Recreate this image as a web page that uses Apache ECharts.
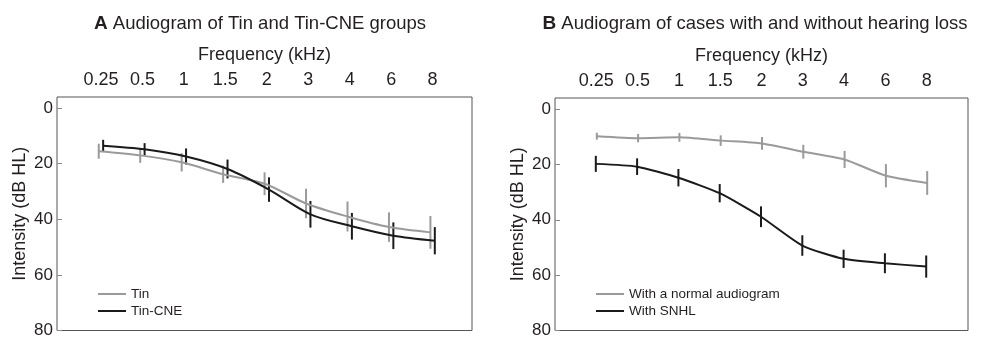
<!DOCTYPE html>
<html>
<head>
<meta charset="utf-8">
<script src="https://cdn.jsdelivr.net/npm/echarts@6/dist/echarts.min.js"></script>
<style>
html,body{margin:0;padding:0;background:#fff;}
#chart{width:982px;height:339px;}
</style>
</head>
<body>
<div id="chart"></div>
<script>
// ---- data ----
const categories = ['0.25', '0.5', '1', '1.5', '2', '3', '4', '6', '8'];
const yTicks = [0, 20, 40, 60, 80];

const tinMean    = [15.5, 17.0, 19.5, 23.8, 27.2, 34.3, 39.0, 42.8, 44.7];
const tinErr     = [2.7, 2.7, 3.3, 3.1, 4.1, 5.3, 5.4, 5.3, 5.9];
const tinCneMean = [13.5, 14.8, 17.4, 21.9, 29.3, 38.2, 42.5, 45.9, 47.7];
const tinCneErr  = [2.1, 2.2, 2.9, 3.4, 4.4, 4.8, 4.8, 4.8, 4.9];

const normalMean = [9.8, 10.5, 10.2, 11.4, 12.4, 15.4, 18.2, 24.1, 26.7];
const normalErr  = [1.25, 1.5, 1.6, 1.9, 2.3, 2.5, 3.1, 4.2, 4.3];
const snhlMean   = [19.8, 20.8, 24.8, 30.4, 38.9, 49.3, 54.1, 55.7, 56.9];
const snhlErr    = [2.9, 3.0, 3.15, 3.3, 3.75, 3.7, 3.3, 3.6, 4.0];

const titleA = 'Audiogram of Tin and Tin-CNE groups';
const titleB = 'Audiogram of cases with and without hearing loss';
const xName = 'Frequency (kHz)';
const yName = 'Intensity (dB HL)';

// ---- styles ----
const FONT = '"Liberation Sans", Arial, sans-serif';
const GREY = '#9a9a9a';
const BLACK = '#1a1a1a';
const TEXT = '#231f20';

function pts(means, shift) {
  return means.map((v, i) => [i + shift, v]);
}
function errs(means, e, shift) {
  return means.map((v, i) => [i + shift, v, e[i]]);
}
function errSeries(idx, data, color, w) {
  return {
    type: 'custom', xAxisIndex: idx, yAxisIndex: idx, data: data, silent: true,
    renderItem: function (params, api) {
      const x = api.value(0), y = api.value(1), e = api.value(2);
      const p1 = api.coord([x, y - e]);
      const p2 = api.coord([x, y + e]);
      return { type: 'line', shape: { x1: p1[0], y1: p1[1], x2: p2[0], y2: p2[1] },
               style: { stroke: color, lineWidth: w } };
    }
  };
}
function lineSeries(idx, name, data, color, smooth) {
  return {
    type: 'line', name: name, xAxisIndex: idx, yAxisIndex: idx, data: data,
    symbol: 'none', smooth: smooth, silent: true,
    lineStyle: { color: color, width: 2 }, itemStyle: { color: color }
  };
}
function xAxis(idx, min, max) {
  return {
    type: 'value', gridIndex: idx, position: 'top', min: min, max: max,
    name: xName, nameLocation: 'middle', nameGap: 33,
    nameTextStyle: { fontFamily: FONT, fontSize: 18, color: TEXT },
    axisLine: { show: false, onZero: false }, axisTick: { show: false }, splitLine: { show: false },
    axisLabel: {
      customValues: categories.map((c, i) => i),
      formatter: v => categories[Math.round(v)],
      fontFamily: FONT, fontSize: 18, color: TEXT, margin: 8
    }
  };
}
function yAxis(idx) {
  return {
    type: 'value', gridIndex: idx, inverse: true, min: -4, max: 80,
    name: yName, nameLocation: 'middle', nameGap: 28,
    nameTextStyle: { fontFamily: FONT, fontSize: 18, color: TEXT },
    axisLine: { show: false, onZero: false }, splitLine: { show: false },
    axisTick: { show: true, inside: true, length: 5, customValues: yTicks,
                lineStyle: { color: '#888', width: 1 } },
    axisLabel: { customValues: yTicks, fontFamily: FONT, fontSize: 17, color: TEXT, margin: 4 }
  };
}

const chart = echarts.init(document.getElementById('chart'), null, { renderer: 'canvas' });
const dA = 0.053, dB = 0.012;
chart.setOption({
  animation: false,
  backgroundColor: '#fff',
  grid: [
    { left: 57, right: 510, top: 97, bottom: 7, show: true, borderColor: '#555', borderWidth: 1, containLabel: false },
    { left: 555, right: 14, top: 98, bottom: 6, show: true, borderColor: '#555', borderWidth: 1, containLabel: false }
  ],
  xAxis: [xAxis(0, -1.06, 8.95), xAxis(1, -1, 9)],
  yAxis: [yAxis(0), yAxis(1)],
  legend: [
    { data: ['Tin', 'Tin-CNE'], orient: 'vertical', left: 98, top: 287, itemGap: 3,
      icon: 'rect', itemWidth: 28, itemHeight: 2, padding: 0,
      textStyle: { fontFamily: FONT, fontSize: 13.5, color: TEXT } },
    { data: ['With a normal audiogram', 'With SNHL'], orient: 'vertical', left: 596, top: 287, itemGap: 3,
      icon: 'rect', itemWidth: 28, itemHeight: 2, padding: 0,
      textStyle: { fontFamily: FONT, fontSize: 13.5, color: TEXT } }
  ],
  graphic: [
    { type: 'text', x: 260, y: 24, style: {
        text: '{b|A} ' + titleA, fontFamily: FONT, fontSize: 18.5, fill: TEXT,
        align: 'center', verticalAlign: 'middle', textAlign: 'center', textVerticalAlign: 'middle',
        rich: { b: { fontWeight: 'bold', fontSize: 19, fontFamily: FONT, fill: TEXT } } } },
    { type: 'text', x: 755, y: 24, style: {
        text: '{b|B} ' + titleB, fontFamily: FONT, fontSize: 18.5, fill: TEXT,
        align: 'center', verticalAlign: 'middle', textAlign: 'center', textVerticalAlign: 'middle',
        rich: { b: { fontWeight: 'bold', fontSize: 19, fontFamily: FONT, fill: TEXT } } } }
  ],
  series: [
    errSeries(0, errs(tinMean, tinErr, -dA), GREY, 2),
    lineSeries(0, 'Tin', pts(tinMean, -dA), GREY, 0.3),
    errSeries(0, errs(tinCneMean, tinCneErr, dA), BLACK, 2),
    lineSeries(0, 'Tin-CNE', pts(tinCneMean, dA), BLACK, 0.3),
    errSeries(1, errs(normalMean, normalErr, dB), GREY, 2),
    lineSeries(1, 'With a normal audiogram', pts(normalMean, dB), GREY, 0.2),
    errSeries(1, errs(snhlMean, snhlErr, -dB), BLACK, 2),
    lineSeries(1, 'With SNHL', pts(snhlMean, -dB), BLACK, 0.2)
  ]
});
</script>
</body>
</html>
